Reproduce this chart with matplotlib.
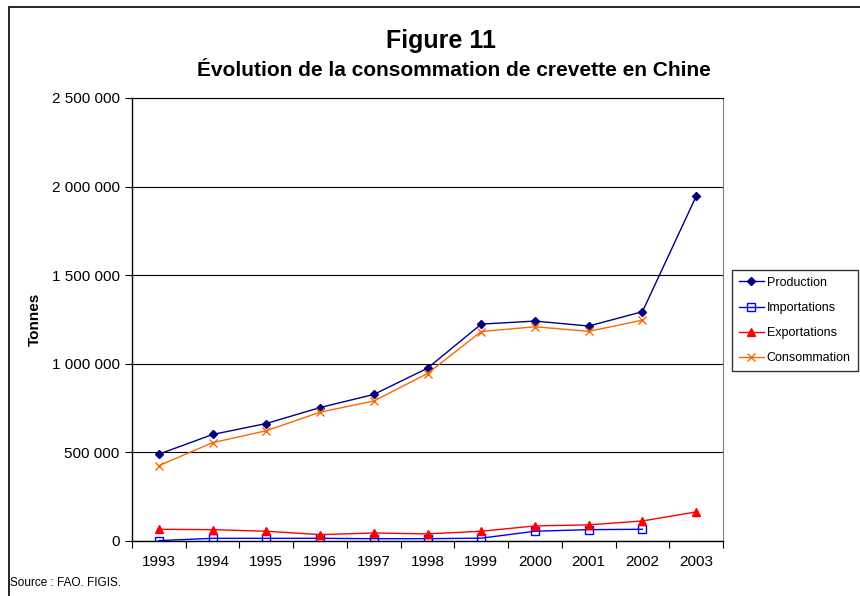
import matplotlib
matplotlib.use("Agg")
import matplotlib.pyplot as plt
from matplotlib.patches import Rectangle
from matplotlib.ticker import FuncFormatter, FixedLocator

plt.rcParams['font.family'] = ['Liberation Sans', 'DejaVu Sans']

years = ["1993", "1994", "1995", "1996", "1997", "1998", "1999", "2000", "2001", "2002", "2003"]
production = [490000, 601000, 663000, 753000, 827000, 975000, 1224000, 1241000, 1213000, 1294000, 1945000]
importations = [2000, 15000, 15000, 15000, 13000, 13000, 16000, 55000, 64000, 66000]
exportations = [66000, 64000, 55000, 36000, 45000, 40000, 55000, 85000, 91000, 113000, 164000]
consommation = [425000, 555000, 622000, 727000, 790000, 945000, 1182000, 1209000, 1183000, 1246000]

fig = plt.figure(figsize=(8.6, 5.96), dpi=100)
ax = fig.add_axes([0.1535, 0.0923, 0.6872, 0.7433])

x = list(range(len(years)))
ax.plot(x, production, color="#000080", marker="D", markersize=4.5, lw=1, label="Production")
ax.plot(x[:len(importations)], importations, color="#0000FF", marker="s", markersize=6,
        markerfacecolor="none", markeredgewidth=1, lw=1, label="Importations")
ax.plot(x, exportations, color="#FF0000", marker="^", markersize=6, lw=1, label="Exportations")
ax.plot(x[:len(consommation)], consommation, color="#FF6600", marker="x", markersize=6,
        markeredgewidth=1, lw=1, label="Consommation")

ax.set_xlim(-0.5, len(years) - 0.5)
ax.set_ylim(0, 2500000)
ax.set_yticks([0, 500000, 1000000, 1500000, 2000000, 2500000])
ax.yaxis.set_major_formatter(FuncFormatter(lambda v, p: f"{int(v):,}".replace(",", " ")))
ax.grid(axis="y", color="black", lw=0.8)
ax.set_axisbelow(True)

# étiquettes au centre, graduations entre les catégories
ax.set_xticks(x)
ax.set_xticklabels(years)
ax.tick_params(axis="x", which="major", length=0, pad=10, labelsize=11)
ax.xaxis.set_minor_locator(FixedLocator([i - 0.5 for i in range(len(years) + 1)]))
ax.tick_params(axis="x", which="minor", length=5, width=0.8, color="black", direction="out")
ax.tick_params(axis="y", length=5, width=0.8, direction="out", labelsize=11, pad=4)

ax.spines["right"].set_color("#808080")
for s in ["left", "bottom", "top"]:
    ax.spines[s].set_color("black")
    ax.spines[s].set_linewidth(1)
ax.spines["top"].set_linewidth(0.8)

fig.text(0.041, 0.464, "Tonnes", rotation=90, fontsize=11, fontweight="bold", ha="center", va="center")
fig.text(0.513, 0.931, "Figure 11", fontsize=18, fontweight="bold", ha="center", va="center")
fig.text(0.528, 0.881, "Évolution de la consommation de crevette en Chine", fontsize=15,
         fontweight="bold", ha="center", va="center")
fig.text(0.012, 0.022, "Source : FAO. FIGIS.", fontsize=8.5, ha="left", va="center")

leg = fig.legend(loc="upper left", bbox_to_anchor=(0.851, 0.547), fontsize=9, frameon=True,
                 fancybox=False, edgecolor="black", handlelength=2.0, labelspacing=1.05,
                 borderpad=0.55, handletextpad=0.25, borderaxespad=0)
leg.get_frame().set_linewidth(1)

fig.patches.append(Rectangle((0.0105, -0.1), 1.2, 1.088, transform=fig.transFigure,
                             fill=False, edgecolor="black", lw=1.2))

fig.savefig("out.png", dpi=100)
